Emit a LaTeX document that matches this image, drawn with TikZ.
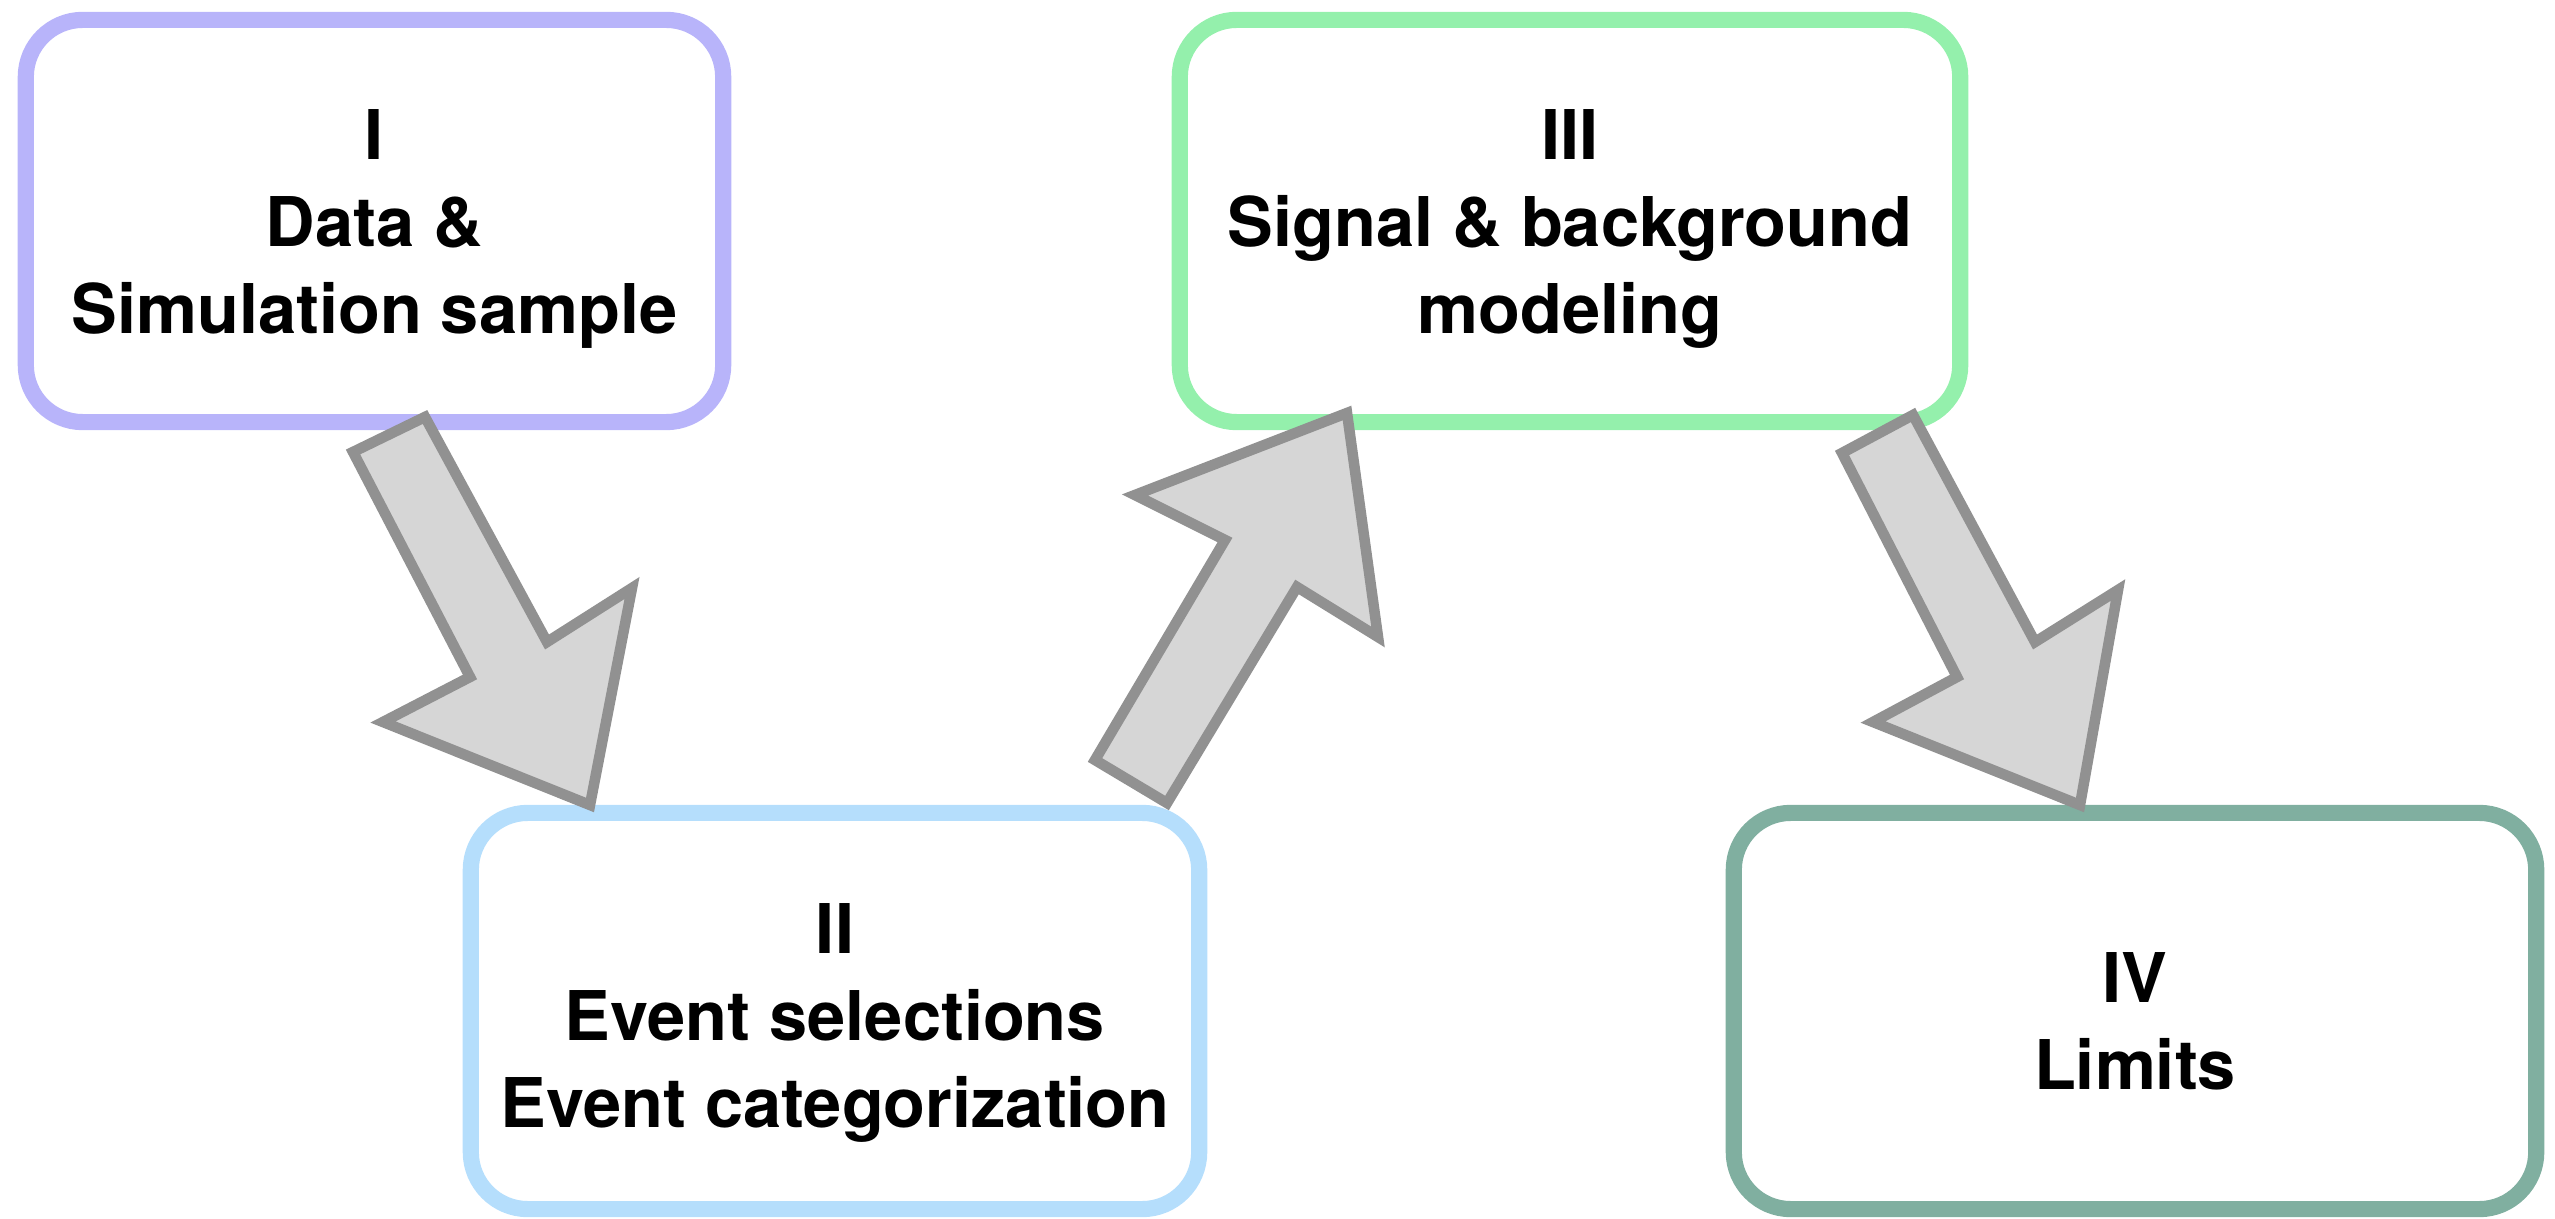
\documentclass[tikz,border=0pt]{standalone}
\usepackage{fontspec}
\setmainfont{TeX Gyre Heros}
\usetikzlibrary{calc}
\definecolor{lavender}{RGB}{184,180,250}
\definecolor{skyblue}{RGB}{181,222,252}
\definecolor{mint}{RGB}{148,240,172}
\definecolor{sage}{RGB}{128,175,160}
\definecolor{arrowfill}{RGB}{214,214,214}
\definecolor{arrowline}{RGB}{145,145,145}
\tikzset{
  stage/.style={rounded corners=5.7mm, line width=4.6pt, fill=white, inner sep=0pt},
  stagetext/.style={align=center, inner sep=0pt,
    font=\fontsize{19.5}{24.8}\selectfont\bfseries},
  bigarrow/.style={fill=arrowfill, draw=arrowline, line width=3pt}
}

\begin{document}
\begin{tikzpicture}[x=0.01cm, y=-0.01cm]
\useasboundingbox (0,0) rectangle (2555,1219);
% the four stages
\node[stage, draw=lavender, minimum width=6.97cm, minimum height=4.02cm] (data) at (374.5,221) {};
\node[stage, draw=skyblue, minimum width=7.28cm, minimum height=3.96cm] (sel) at (835,1011) {};
\node[stage, draw=mint, minimum width=7.80cm, minimum height=4.02cm] (model) at (1570,221) {};
\node[stage, draw=sage, minimum width=8.02cm, minimum height=3.96cm] (lim) at (2135,1011) {};
\node[stagetext] (datatxt) at ($(data)+(0,8)$) {I\\Data \&\\Simulation sample};
\node[stagetext] (seltxt) at ($(sel)+(0,12)$) {II\\Event selections\\Event categorization};
\node[stagetext] (modeltxt) at ($(model)+(0,8)$) {III\\Signal \& background\\modeling};
\node[stagetext] (limtxt) at ($(lim)+(0,10)$) {IV\\Limits};
%
% block arrows between them
\draw[bigarrow] (353,452) -- (425,417) -- (547,642) -- (632,588) -- (590,805) -- (383,722) -- (470,677) -- cycle;
\draw[bigarrow] (1095,760) -- (1167,803) -- (1297,587) -- (1378,637) -- (1347,413) -- (1135,495) -- (1225,540) -- cycle;
\draw[bigarrow] (1842,453) -- (1913,415) -- (2035,642) -- (2118,590) -- (2080,805) -- (1873,722) -- (1957,677) -- cycle;
\end{tikzpicture}
\end{document}
